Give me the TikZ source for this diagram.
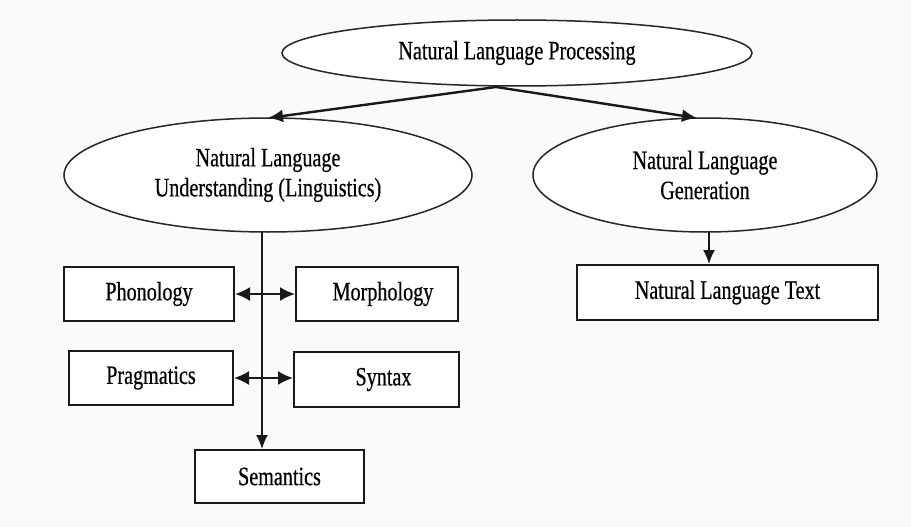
\documentclass[tikz,border=0pt]{standalone}
\usepackage{fontspec}
\setmainfont{Liberation Serif}
\newfontfamily\lblfont[FakeStretch=0.76,UprightFeatures={FakeBold=0.5}]{Liberation Serif}
\usetikzlibrary{shapes.geometric,arrows.meta}
\begin{document}
\begin{tikzpicture}[x=1pt,y=-1pt,
  txt/.style={font=\lblfont\fontsize{26.5}{30}\selectfont, align=center, text=black},
  oval/.style={ellipse, draw=black!85, line width=1.5pt, fill=white, inner sep=0pt, txt},
  box/.style={rectangle, draw=black!90, line width=2pt, fill=white, inner sep=0pt, txt},
  link/.style={line width=1.6pt, draw=black!90, -{Latex[length=14pt,width=12pt]}},
  biglink/.style={line width=2.4pt, draw=black!90, -{Latex[length=15pt,width=13pt]}},
  twoway/.style={line width=2pt, draw=black!90, {Latex[length=15pt,width=14pt]}-{Latex[length=15pt,width=14pt]}}]
  % canvas
  \fill[black!2] (0,0) rectangle (911,527);
  \useasboundingbox (0,0) rectangle (911,527);

  % top-level concept and its two branches
  \node[oval, minimum width=470pt, minimum height=66pt] (nlp) at (517,53) {Natural Language Processing};
  \node[oval, minimum width=408pt, minimum height=114pt] (nlu) at (268,175) {Natural Language\\Understanding (Linguistics)};
  \node[oval, minimum width=344pt, minimum height=114pt] (nlg) at (705,175) {Natural Language\\Generation};

  % levels of linguistic analysis
  \node[box, minimum width=170pt, minimum height=54pt] (phon) at (149,294) {Phonology};
  \node[box, minimum width=162pt, minimum height=54pt] (morph) at (377,294) {\hspace*{12pt}Morphology};
  \node[box, minimum width=164pt, minimum height=54pt] (prag) at (151,378) {Pragmatics};
  \node[box, minimum width=165pt, minimum height=55pt] (syn) at (376.5,379.5) {\hspace*{14pt}Syntax};
  \node[box, minimum width=169pt, minimum height=53pt] (sem) at (279.5,476.5) {Semantics};

  % generation output
  \node[box, minimum width=301pt, minimum height=55pt] (nlt) at (727.5,292.5) {Natural Language Text};

  % connectors
  \coordinate (split) at (496,87);
  \draw[biglink] (split) -- (268,118);
  \draw[biglink] (split) -- (697,118);
  \draw[link] (262,232) -- (sem.north -| 262,0);
  \draw[link] (709,232) -- (nlt.north -| 709,0);
  \draw[twoway] (phon.east) -- (morph.west |- phon.east);
  \draw[twoway] (prag.east) -- (syn.west |- prag.east);
\end{tikzpicture}
\end{document}
